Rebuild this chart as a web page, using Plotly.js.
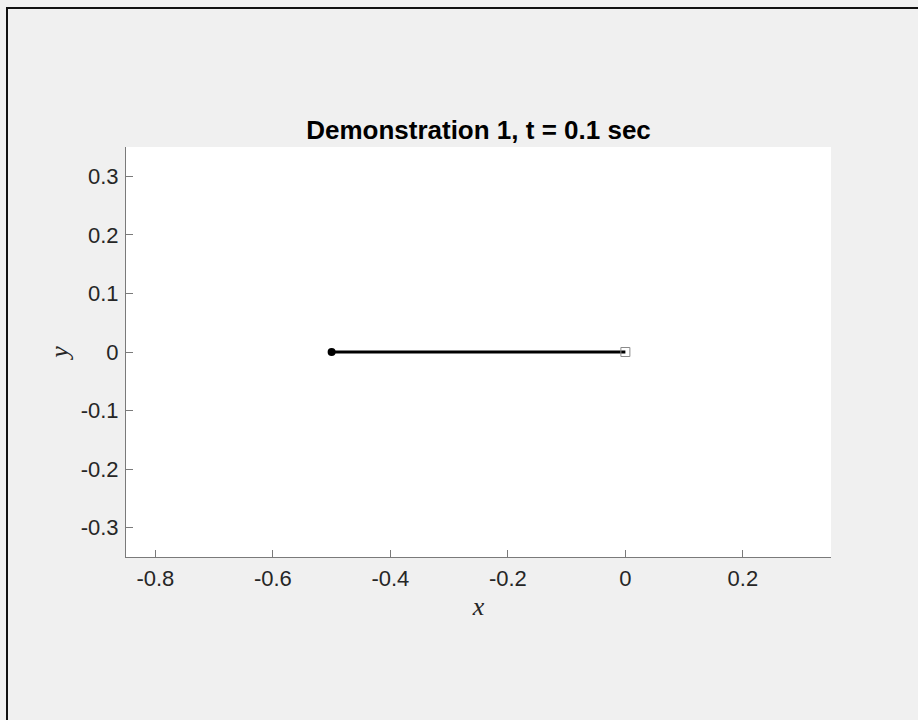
<!DOCTYPE html>
<html>
<head>
<meta charset="utf-8">
<script src="https://cdn.plot.ly/plotly-3.0.1.min.js"></script>
<style>
  html, body { margin: 0; padding: 0; background: #f0f0f0; }
  #wrap { position: relative; width: 918px; height: 720px; overflow: hidden; }
  #chart { position: absolute; left: 0; top: 0; width: 918px; height: 720px; }
  #frame {
    position: absolute; left: 6px; top: 7px; width: 930px; height: 730px;
    border-top: 2px solid #111; border-left: 2px solid #111;
    pointer-events: none;
  }
</style>
</head>
<body>
<div id="wrap">
  <div id="chart"></div>
  <div id="frame"></div>
</div>
<script>
// Pendulum state at t = 0.1 s: rod from the bob to the pivot
const rodX = [-0.5, 0];
const rodY = [0, 0];
const bobX = [-0.5];
const bobY = [0];
const pivotX = [0];
const pivotY = [0];

// Axis ticks
const xTickVals = [-0.8, -0.6, -0.4, -0.2, 0, 0.2];
const xTickText = ['-0.8', '-0.6', '-0.4', '-0.2', '0', '0.2'];
const yTickVals = [-0.3, -0.2, -0.1, 0, 0.1, 0.2, 0.3];
const yTickText = ['-0.3', '-0.2', '-0.1', '0', '0.1', '0.2', '0.3'];

const xRange = [-0.85, 0.35];
const yRange = [-0.35, 0.35];

const titleText = '<b>Demonstration 1, t = 0.1 sec</b>';

const traces = [
  {
    x: rodX, y: rodY, type: 'scatter', mode: 'lines',
    line: { color: '#000000', width: 3 },
    hoverinfo: 'skip'
  },
  {
    x: bobX, y: bobY, type: 'scatter', mode: 'markers',
    marker: { symbol: 'circle', size: 8, color: '#000000' }
  },
  {
    x: pivotX, y: pivotY, type: 'scatter', mode: 'markers',
    marker: { symbol: 'square-open', size: 9, color: '#8a8a8a', line: { width: 1, color: '#8a8a8a' } }
  }
];

const axisCommon = {
  showgrid: false,
  zeroline: false,
  showline: true,
  linecolor: '#7a7a7a',
  linewidth: 1,
  mirror: false,
  ticks: 'inside',
  ticklen: 7,
  tickwidth: 1,
  tickcolor: '#7a7a7a',
  tickfont: { family: 'Liberation Sans, Arial, sans-serif', size: 22, color: '#262626' },
  automargin: false,
  fixedrange: true
};

const layout = {
  width: 918,
  height: 720,
  margin: { l: 126, r: 87, t: 147, b: 163 },
  paper_bgcolor: '#f0f0f0',
  plot_bgcolor: '#ffffff',
  showlegend: false,
  title: {
    text: titleText,
    font: { family: 'Liberation Sans, Arial, sans-serif', size: 26, color: '#000000' },
    x: 0.5 * (126 + 831) / 918,
    xanchor: 'center',
    xref: 'container',
    yref: 'container',
    y: 1 - 130 / 720,
    yanchor: 'middle'
  },
  xaxis: Object.assign({}, axisCommon, {
    range: xRange,
    tickmode: 'array',
    tickvals: xTickVals,
    ticktext: xTickText,
    ticklabelstandoff: 2,
    title: {
      text: '<i>x</i>',
      font: { family: 'Liberation Serif, Times New Roman, serif', size: 26, color: '#262626' },
      standoff: 6
    }
  }),
  yaxis: Object.assign({}, axisCommon, {
    range: yRange,
    tickmode: 'array',
    tickvals: yTickVals,
    ticktext: yTickText,
    ticklabelstandoff: 2,
    title: {
      text: '<i>y</i>',
      font: { family: 'Liberation Serif, Times New Roman, serif', size: 26, color: '#262626' },
      standoff: 4
    }
  })
};

Plotly.newPlot('chart', traces, layout, { displayModeBar: false, staticPlot: true });
</script>
</body>
</html>
